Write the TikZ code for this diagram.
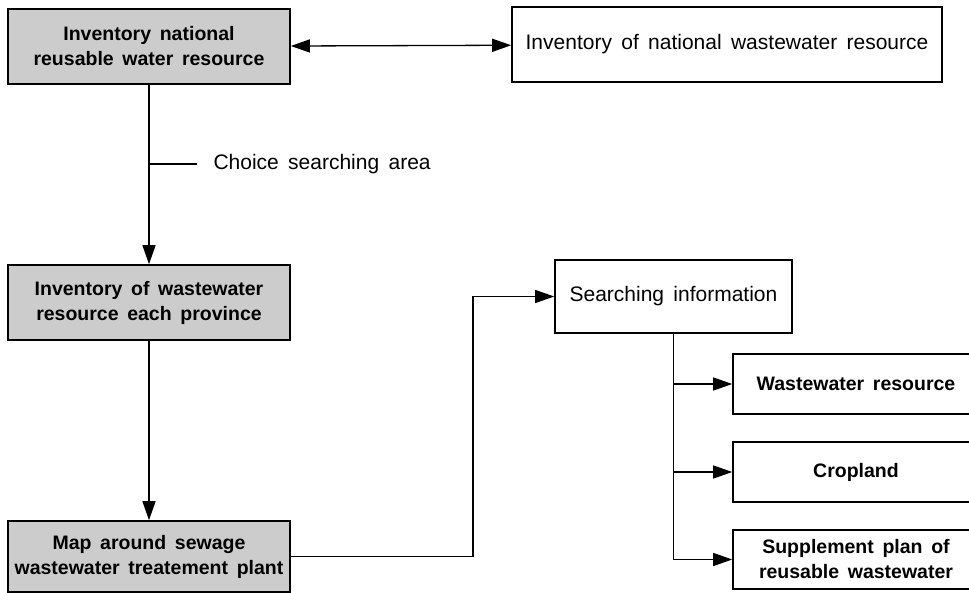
\documentclass[tikz,border=0pt]{standalone}
\usepackage{fontspec}
\setmainfont{Liberation Sans}[WordSpace=1.6]
\usetikzlibrary{arrows.meta,calc}
\tikzset{
    >={Triangle[length=19pt,width=13pt]},
    box/.style = {draw, line width=1.6pt, inner sep=0pt, align=center,
        font=\fontsize{21}{25}\selectfont},
    shaded box/.style = {box, fill=black!20,
        font=\fontsize{19.5}{25}\selectfont\bfseries},
    plain box/.style = {box, fill=white},
    light box/.style = {box, fill=white,
        font=\fontsize{19.5}{25}\selectfont\bfseries},
    link/.style = {line width=1.3pt}
}

\begin{document}
\begin{tikzpicture}[x=1pt, y=-1pt]
    \useasboundingbox (0,0) rectangle (969,593);
    % Nodes
    \node (invnat) [shaded box, minimum width=282pt, minimum height=75pt] at (149,46.5)
        {Inventory national\\reusable water resource};
    \node (invwaste) [plain box, minimum width=430pt, minimum height=75pt] at (727,44.5)
        {Inventory of national wastewater resource};
    \node (invprov) [shaded box, minimum width=282pt, minimum height=75pt] at (149,302.5)
        {Inventory of wastewater\\resource each province};
    \node (mapplant) [shaded box, minimum width=282pt, minimum height=71pt] at (149,556.5)
        {Map around sewage\\wastewater treatement plant};
    \node (searchinfo) [plain box, minimum width=237pt, minimum height=73pt] at (673.5,296.5)
        {Searching information};
    \node (wasteres) [light box, minimum width=246pt, minimum height=60pt] at (856,384)
        {Wastewater resource};
    \node (cropland) [light box, minimum width=246pt, minimum height=60pt] at (856,472)
        {Cropland};
    \node (supplement) [light box, minimum width=246pt, minimum height=59pt] at (856,559.5)
        {Supplement plan of\\reusable wastewater};
    \coordinate (choicept) at (149,164);
    \node (choice) [anchor=west, font=\fontsize{21}{25}\selectfont] at (210,164)
        {Choice searching area};
    \coordinate (turn) at (473,0);

    % Arrows
    \draw [link, <->] (invnat) to (invwaste);
    \draw [link, ->] (invnat) to (invprov);
    \draw [link] (choicept) -- ++(48,0);
    \draw [link, ->] (invprov) to (mapplant);
    \draw [link, ->] (mapplant.east) -| (turn |- searchinfo.west) -- (searchinfo.west);
    \draw [link, ->] (searchinfo.south) |- (supplement.west);
    \draw [link, ->] (searchinfo.south |- wasteres.west) -- (wasteres.west);
    \draw [link, ->] (searchinfo.south |- cropland.west) -- (cropland.west);
\end{tikzpicture}
\end{document}
